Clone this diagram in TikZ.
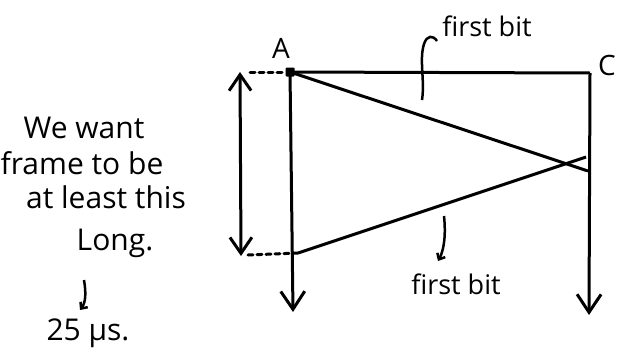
\documentclass[tikz,border=0pt]{standalone}
\usepackage{fontspec}
\setmainfont{Open Sans}
\usetikzlibrary{arrows.meta, positioning}

\begin{document}
\begin{tikzpicture}[
    x=1pt, y=-1pt,
    line width=3pt,
    every node/.style={inner sep=0pt, font=\fontsize{24}{28}\selectfont},
    note/.style={font=\fontsize{30}{34}\selectfont},
    tag/.style={font=\fontsize{27}{30}\selectfont},
    station/.style={font=\fontsize{28}{32}\selectfont},
    dot/.style={rectangle, fill, minimum size=9pt, rounded corners=1pt},
    timeline/.style={-{Straight Barb[length=18pt, width=24pt]}},
    span/.style={{Straight Barb[length=16pt, width=22pt]}-{Straight Barb[length=16pt, width=22pt]}},
    guide/.style={dash pattern=on 5pt off 4pt, line cap=round},
    pointer/.style={-{Straight Barb[length=5pt, width=9pt]}, line width=2.5pt}
]
\useasboundingbox (0,0) rectangle (618,359);

% stations and time lines
\node[dot] (A) at (290,72) {};
\node[station] (labA) at (281,48) {A};
\coordinate (C) at (590,73);
\node[station] (labC) at (607,65) {C};
\coordinate (Aend) at (293,312);
\coordinate (Cend) at (589,315);
\draw[timeline] (A.center) -- (Aend);
\draw (A.center) -- (C);
\draw[timeline] (C) -- (Cend);

% signal there and back
\coordinate (hit) at (588,171);
\coordinate (back) at (586,157);
\coordinate (ret) at (298,253);
\draw (A.center) -- (hit);
\draw (back) -- (ret);

% frame length
\coordinate (top) at (240,72);
\coordinate (bot) at (241,256);
\draw[span] (top) -- (bot);
\coordinate (topdash) at (250,72);
\coordinate (botdash) at (248,255);
\draw[guide] (topdash) -- (A.west);
\draw[guide] (botdash) -- (ret);

% labels for the first bit
\node[tag] (fb1) at (487,26) {first bit};
\coordinate (curl) at (422,100);
\draw[line width=2.5pt] (curl) .. controls (425,80) and (419,60) .. (424,44)
    .. controls (427,35) and (433,35) .. (437,41);
\node[tag] (fb2) at (456,284) {first bit};
\coordinate (mark) at (444,216);
\draw[pointer] (mark) .. controls (446,235) and (444,250) .. (438,261);

% note on the left
\node[note] (l1) at (84,128) {We want};
\node[note] (l2) at (82,163) {frame to be};
\node[note] (l3) at (106,197) {at least this};
\node[note] (l4) at (115,243) {Long.};
\coordinate (n1) at (84,280);
\coordinate (n2) at (80,310);
\draw[pointer] (n1) .. controls (86,292) and (86,302) .. (n2);
\node[note] (l5) at (88,333) {25 μs.};

\end{tikzpicture}
\end{document}
